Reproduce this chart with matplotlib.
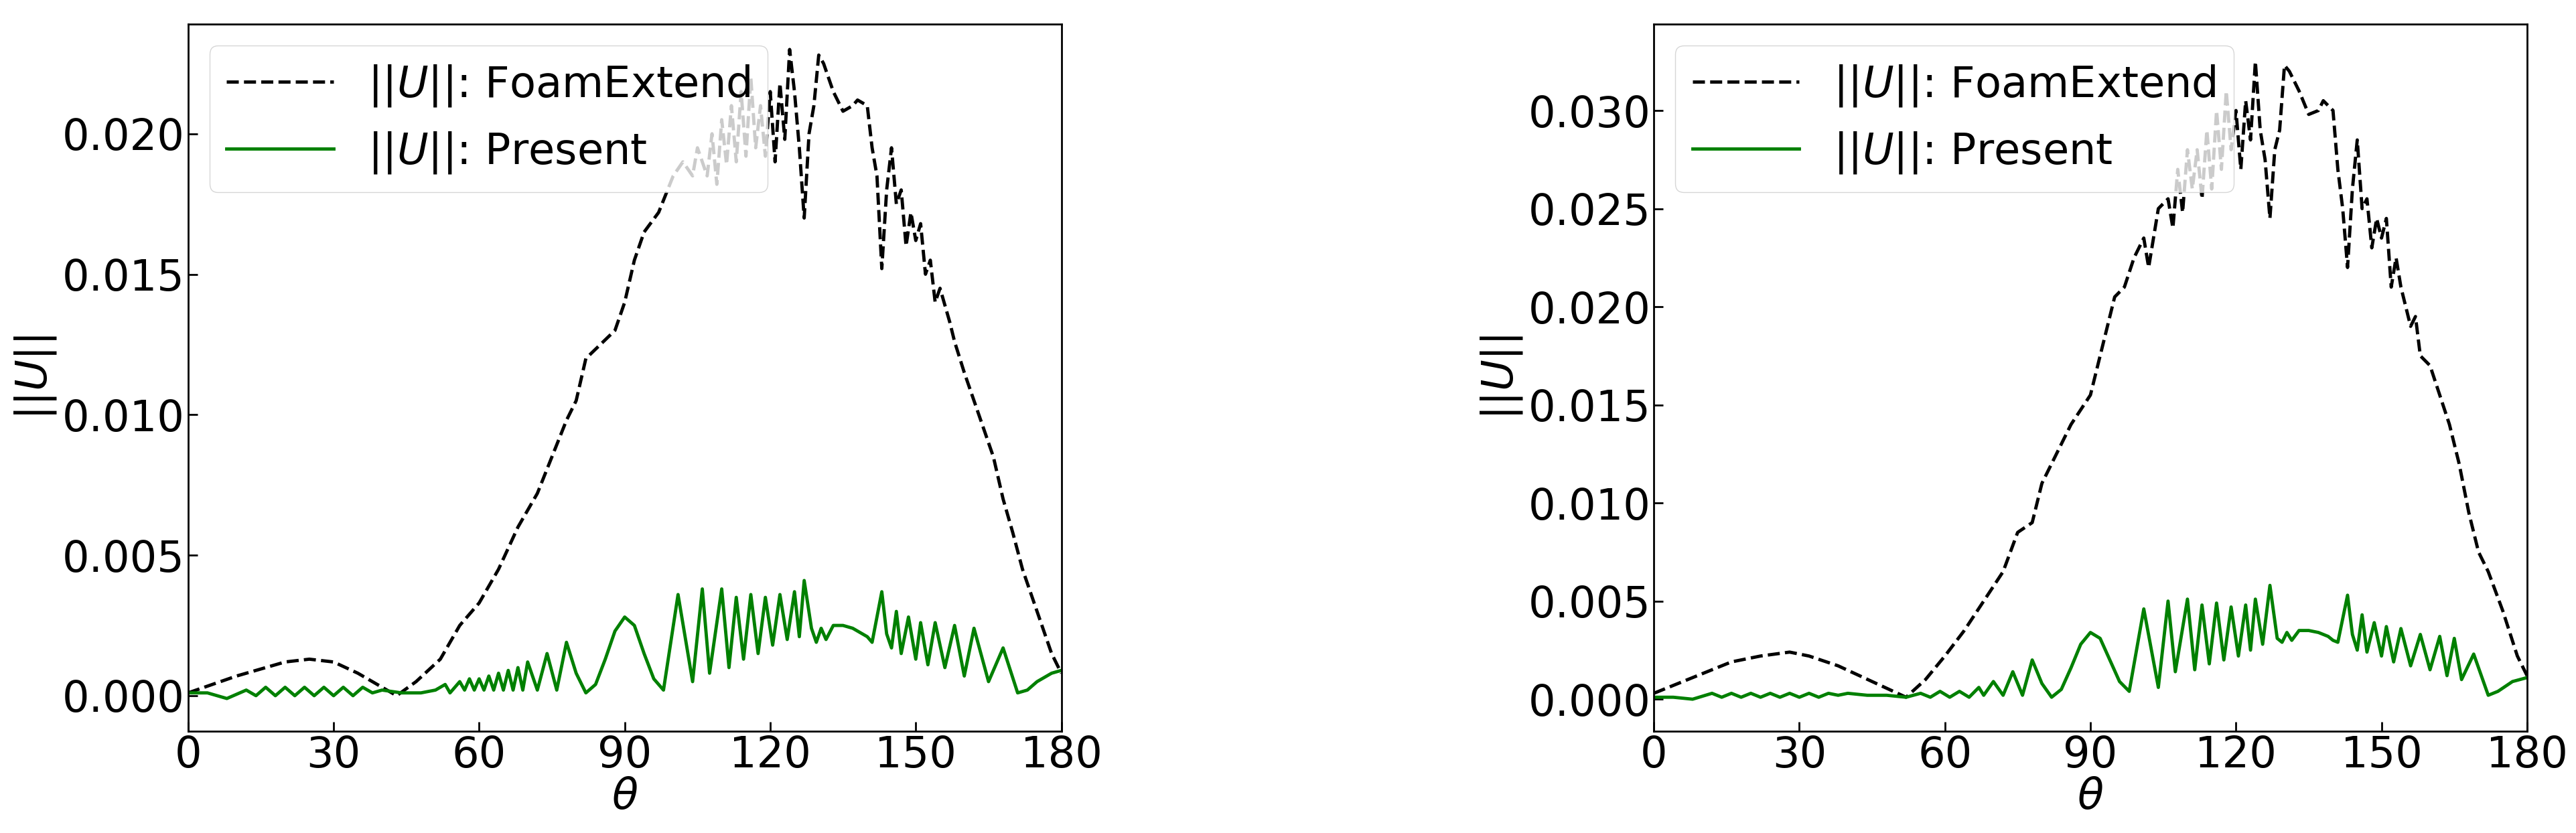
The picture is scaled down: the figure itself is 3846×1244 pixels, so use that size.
import matplotlib
matplotlib.use("Agg")
import matplotlib.pyplot as plt

# ---- Left panel data ----
L_fe_x = [0,10,20,25,30,35,40,43,47,52,56,60,64,68,72,75,78,80,82,85,88,90,92,94,97,100,102,104,105,107,108,109,110,111,112,113,114,115,116,117,118,119,120,121,122,123,124,125,126,127,128,129,130,131,133,135,137,138,140,141,142,143,144,145,146,147,148,149,150,151,152,153,154,155,157,158,160,162,164,166,168,170,172,175,178,180]
L_fe_y = [0.0001,0.0007,0.0012,0.0013,0.0012,0.0008,0.0003,0.0,0.0005,0.0013,0.0025,0.0033,0.0045,0.006,0.0072,0.0085,0.0098,0.0105,0.012,0.0125,0.013,0.014,0.0155,0.0165,0.0172,0.0185,0.019,0.0185,0.0195,0.0185,0.020,0.0182,0.0205,0.0189,0.021,0.019,0.0215,0.0192,0.022,0.0195,0.021,0.0192,0.0215,0.019,0.0218,0.0198,0.023,0.0215,0.0195,0.017,0.020,0.021,0.0228,0.0225,0.0215,0.0208,0.021,0.0212,0.021,0.0195,0.0185,0.0152,0.018,0.0195,0.0175,0.018,0.016,0.0172,0.0162,0.0168,0.015,0.0155,0.014,0.0145,0.0133,0.0126,0.0115,0.0105,0.0095,0.0085,0.007,0.0058,0.0045,0.003,0.0015,0.0008]

L_pr_x = [0,4,8,12,14,16,18,20,22,24,26,28,30,32,34,36,38,40,44,48,51,53,54,56,57,58,59,60,61,62,63,64,65,66,67,68,69,70,72,74,76,78,80,82,84,86,88,90,92,94,96,98,101,104,106,107.5,110,111.5,113,114.5,116,117.5,119,120.5,122,123.5,125,126,127,128.5,129.5,130.5,131.5,133,135,137,139,140,141,143,144,145,146,147,148.5,150,151,152.5,154,156,158,160,162,165,168,171,173,175,178,180]
L_pr_y = [0.0001,0.0001,-0.0001,0.0002,0.0,0.0003,0.0,0.0003,0.0,0.0003,0.0,0.0003,0.0,0.0003,0.0,0.0003,0.0001,0.0002,0.0001,0.0001,0.0002,0.0004,0.0001,0.0005,0.0002,0.0006,0.0002,0.0006,0.0002,0.0007,0.0002,0.0008,0.0002,0.0009,0.0002,0.0010,0.0002,0.0012,0.0002,0.0015,0.0002,0.0019,0.0008,0.0001,0.0004,0.0013,0.0023,0.0028,0.0025,0.0015,0.0006,0.0002,0.0036,0.0005,0.0038,0.0008,0.0038,0.0010,0.0035,0.0013,0.0036,0.0015,0.0035,0.0018,0.0036,0.0020,0.0037,0.0021,0.0041,0.0024,0.0019,0.0024,0.0020,0.0025,0.0025,0.0024,0.0022,0.0021,0.0019,0.0037,0.0022,0.0017,0.0030,0.0015,0.0028,0.0013,0.0026,0.0011,0.0026,0.0010,0.0025,0.0007,0.0024,0.0005,0.0017,0.0001,0.0002,0.0005,0.0008,0.0009]

# ---- Right panel data ----
R_fe_x = [0,10,16,22,28,32,38,45,52,56,60,64,68,72,75,78,80,83,86,90,93,95,97,99,101,102,104,106,107,108,109,110,111,112,113,114,115,116,117,118,119,120,121,122,123,124,125,126,127,128,129,130,131,133,135,137,138,140,141,142,143,144,145,146,147,148,149,150,151,152,153,154,156,157,158,160,162,164,166,168,170,172,175,178,180]
R_fe_y = [0.0003,0.0013,0.0019,0.0022,0.0024,0.0022,0.0017,0.0009,0.0001,0.0010,0.0022,0.0035,0.0050,0.0065,0.0085,0.0090,0.0110,0.0125,0.0140,0.0155,0.0185,0.0205,0.0210,0.0225,0.0235,0.0220,0.0250,0.0255,0.0240,0.0270,0.0248,0.0280,0.0260,0.0280,0.0255,0.0290,0.0260,0.0300,0.0270,0.0310,0.0280,0.0300,0.0270,0.0305,0.0285,0.0325,0.0290,0.0275,0.0245,0.0280,0.0290,0.0323,0.0320,0.0310,0.0298,0.0300,0.0305,0.0300,0.0270,0.0250,0.0220,0.0260,0.0285,0.0250,0.0255,0.0230,0.0245,0.0235,0.0245,0.0210,0.0225,0.0210,0.0190,0.0195,0.0175,0.0170,0.0155,0.0140,0.0120,0.0095,0.0075,0.0065,0.0045,0.0022,0.0012]

R_pr_x = [0,4,8,12,14,16,18,20,22,24,26,28,30,32,34,36,38,40,44,48,52,55,57,59,61,63,65,67,68,70,72,74,76,78,80,82,84,86,88,90,92,94,96,98,101,104,106,107.5,110,111.5,113,114.5,116,117.5,119,120.5,122,123,124,125.5,127,128.5,129.5,130.5,131.5,133,135,137,139,140,141,143,144,145,146,147,148.5,150,151,152.5,154,156,158,160,162,163.5,165,166.5,169,172,174,177,180]
R_pr_y = [0.0001,0.0001,0.0,0.0003,0.0001,0.0003,0.0001,0.0003,0.0001,0.0003,0.0001,0.0003,0.0001,0.0003,0.0001,0.0003,0.0002,0.0003,0.0002,0.0002,0.0001,0.0003,0.0001,0.0004,0.0001,0.0004,0.0001,0.0006,0.0002,0.0009,0.0002,0.0014,0.0002,0.0020,0.0008,0.0001,0.0005,0.0016,0.0028,0.0034,0.0031,0.0020,0.0009,0.0004,0.0046,0.0006,0.0050,0.0014,0.0051,0.0015,0.0048,0.0018,0.0049,0.0020,0.0047,0.0022,0.0048,0.0025,0.0051,0.0028,0.0058,0.0031,0.0029,0.0034,0.0030,0.0035,0.0035,0.0034,0.0032,0.0030,0.0029,0.0053,0.0033,0.0025,0.0043,0.0024,0.0039,0.0022,0.0037,0.0019,0.0036,0.0017,0.0033,0.0015,0.0032,0.0012,0.0031,0.0010,0.0023,0.0002,0.0004,0.0009,0.0011]

panels = [
    (L_fe_x, L_fe_y, L_pr_x, L_pr_y, (-0.00127, 0.0239), [0,0.005,0.010,0.015,0.020], [0.073,0.122,0.339,0.849]),
    (R_fe_x, R_fe_y, R_pr_x, R_pr_y, (-0.00164, 0.0344), [0,0.005,0.010,0.015,0.020,0.025,0.030], [0.642,0.122,0.339,0.849]),
]
xticks = [0,30,60,90,120,150,180]
fs = 46

fig = plt.figure(figsize=(38.46,12.44), dpi=100)
for fex, fey, prx, pry, ylim, yt, rect in panels:
    ax = fig.add_axes(rect)
    ax.plot(fex, fey, color='black', ls='--', lw=3.5, label=r'$||U||$: FoamExtend')
    ax.plot(prx, pry, color='green', ls='-', lw=3.5, label=r'$||U||$: Present')
    ax.set_xlim(0,180)
    ax.set_ylim(*ylim)
    ax.set_xticks(xticks)
    ax.set_yticks(yt)
    ax.set_yticklabels([f'{v:.3f}' for v in yt])
    ax.tick_params(direction='in', labelsize=fs, length=10, width=2)
    for s in ax.spines.values():
        s.set_linewidth(2)
    ax.set_xlabel(r'$\theta$', fontsize=fs, labelpad=0)
    ax.set_ylabel(r'$||U||$', fontsize=fs)
    ax.legend(loc='upper left', fontsize=fs, handlelength=2.5)

fig.savefig('out.png', dpi=100)
